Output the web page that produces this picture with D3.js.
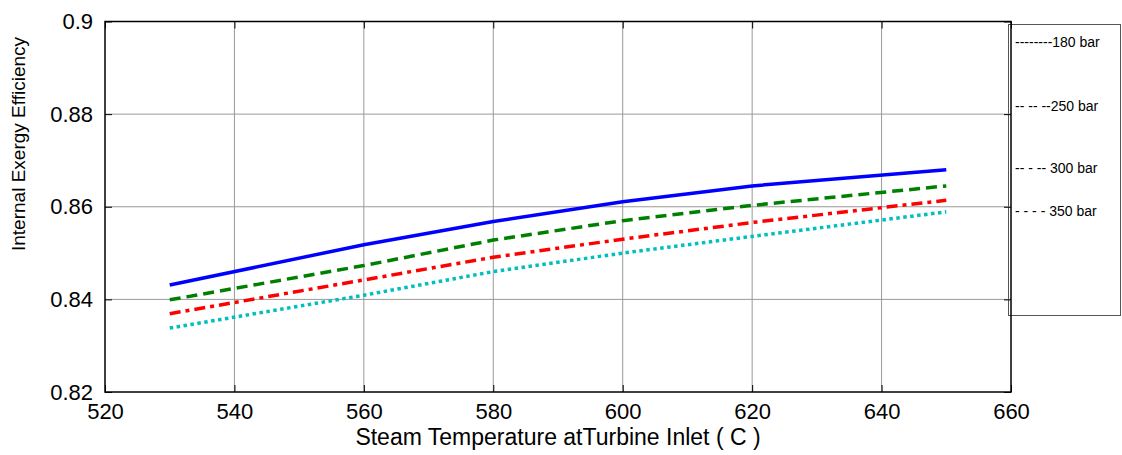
<!DOCTYPE html>
<meta charset="utf-8">
<style>
body { margin: 0; background: #fff; }
text { font-family: "Liberation Sans", Arial, sans-serif; fill: #000; }
.grid line { stroke: #999; stroke-width: 1; }
</style>
<svg width="1122" height="455"></svg>
<script src="https://cdn.jsdelivr.net/npm/d3@7"></script>
<script>

var temps = [530, 560, 580, 600, 620, 650];
var eff180 = [0.8431, 0.8518, 0.8568, 0.8611, 0.8645, 0.8680];
var eff250 = [0.8399, 0.8473, 0.8528, 0.8570, 0.8603, 0.8645];
var eff300 = [0.8369, 0.8442, 0.8491, 0.8530, 0.8566, 0.8614];
var eff350 = [0.8338, 0.8409, 0.8460, 0.8500, 0.8536, 0.8589];
var xTicks = [520, 540, 560, 580, 600, 620, 640, 660];
var yTicks = [0.82, 0.84, 0.86, 0.88, 0.9];
var legendLabels = ["--------180 bar", "-- -- --250 bar", "-- - -- 300 bar", "- - - - 350 bar"];

var series = [
  {values: eff180, color: "#0000ff", dash: null},
  {values: eff250, color: "#008000", dash: "11,6"},
  {values: eff300, color: "#ff0000", dash: "11,5,4,5"},
  {values: eff350, color: "#00bfbf", dash: "3.5,3.5"}
];

var svg = d3.select("svg");
var mLeft = 105, mRight = 1011, mTop = 21.5, mBottom = 392;

var x = d3.scaleLinear().domain([520, 660]).range([mLeft, mRight]);
var y = d3.scaleLinear().domain([0.82, 0.9]).range([mBottom, mTop]);

// legend box (no fill, the axes frame shows through it)
svg.append("rect")
    .attr("x", 1008.5).attr("y", 24.5)
    .attr("width", 112).attr("height", 291)
    .attr("fill", "none").attr("stroke", "#555").attr("stroke-width", 1);

// grid
var grid = svg.append("g").attr("class", "grid");
grid.selectAll(".gx").data(xTicks.slice(1, -1)).enter().append("line")
    .attr("x1", function(d) { return x(d); }).attr("x2", function(d) { return x(d); })
    .attr("y1", mTop).attr("y2", mBottom);
grid.selectAll(".gy").data(yTicks.slice(1, -1)).enter().append("line")
    .attr("x1", mLeft).attr("x2", mRight)
    .attr("y1", function(d) { return y(d); }).attr("y2", function(d) { return y(d); });

// axes (ticks inward)
svg.append("g")
    .attr("transform", "translate(0," + mBottom + ")")
    .call(d3.axisBottom(x).tickValues(xTicks).tickSizeInner(-7).tickSizeOuter(0).tickPadding(11).tickFormat(d3.format("d")))
    .call(function(g) {
      g.select(".domain").remove();
      g.selectAll("text").attr("font-size", 22).attr("font-family", "Liberation Sans, Arial, sans-serif");
    });
svg.append("g")
    .attr("transform", "translate(0," + mTop + ")")
    .call(d3.axisTop(x).tickValues(xTicks).tickSizeInner(-7).tickSizeOuter(0).tickFormat(""))
    .call(function(g) { g.select(".domain").remove(); });
svg.append("g")
    .attr("transform", "translate(" + mLeft + ",0)")
    .call(d3.axisLeft(y).tickValues(yTicks).tickSizeInner(-7).tickSizeOuter(0).tickPadding(12).tickFormat(function(d) { return d === 0.9 ? "0.9" : d3.format(".2f")(d); }))
    .call(function(g) {
      g.select(".domain").remove();
      g.selectAll("text").attr("font-size", 22).attr("font-family", "Liberation Sans, Arial, sans-serif");
    });
svg.append("g")
    .attr("transform", "translate(" + mRight + ",0)")
    .call(d3.axisRight(y).tickValues(yTicks).tickSizeInner(-7).tickSizeOuter(0).tickFormat(""))
    .call(function(g) { g.select(".domain").remove(); });

// box
svg.append("rect")
    .attr("x", mLeft).attr("y", mTop)
    .attr("width", mRight - mLeft).attr("height", mBottom - mTop)
    .attr("fill", "none").attr("stroke", "#000").attr("stroke-width", 1.5);

// lines
var line = d3.line()
    .x(function(d, i) { return x(temps[i]); })
    .y(function(d) { return y(d); });

svg.selectAll(".series").data(series).enter().append("path")
    .attr("d", function(d) { return line(d.values); })
    .attr("fill", "none")
    .attr("stroke", function(d) { return d.color; })
    .attr("stroke-width", 3.5)
    .attr("stroke-dasharray", function(d) { return d.dash; });

// legend text
var legendY = [47, 111, 173, 216];
svg.selectAll(".leg").data(legendLabels).enter().append("text")
    .attr("x", 1015)
    .attr("y", function(d, i) { return legendY[i]; })
    .attr("font-size", 14)
    .text(function(d) { return d; });

// axis titles
svg.append("text")
    .attr("x", (mLeft + mRight) / 2).attr("y", 445)
    .attr("text-anchor", "middle")
    .attr("font-size", 23)
    .text("Steam Temperature atTurbine Inlet ( C )");

svg.append("text")
    .attr("transform", "translate(25,144) rotate(-90)")
    .attr("text-anchor", "middle")
    .attr("font-size", 19)
    .text("Internal Exergy Efficiency");

</script>
